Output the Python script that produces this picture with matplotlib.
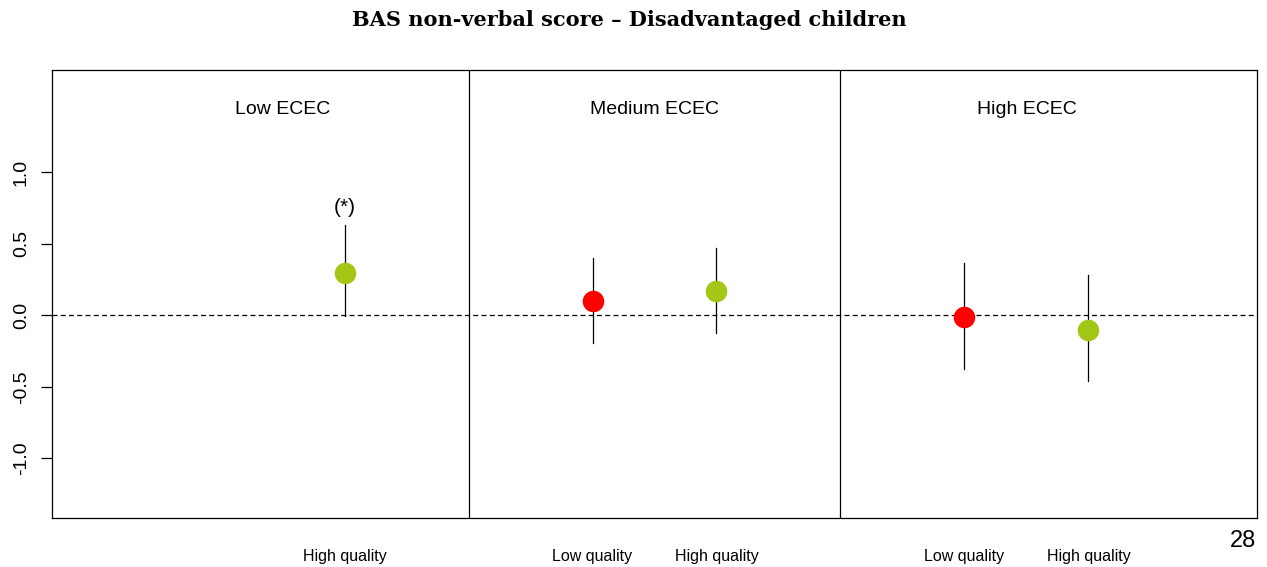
import matplotlib
matplotlib.use("Agg")
import matplotlib.pyplot as plt

# estimates with confidence intervals
x_pos = [2, 4, 5, 7, 8]
quality = ['High quality', 'Low quality', 'High quality', 'Low quality', 'High quality']
estimate = [0.30, 0.10, 0.17, -0.01, -0.105]
ci_low = [-0.005, -0.194, -0.124, -0.374, -0.461]
ci_high = [0.629, 0.405, 0.475, 0.370, 0.286]
panel_names = ['Low ECEC', 'Medium ECEC', 'High ECEC']
panel_centers = [1.5, 4.5, 7.5]
panel_dividers = [3, 6]
y_ticks = [-1.0, -0.5, 0.0, 0.5, 1.0]

RED = '#FF0000'
GREEN = '#A3C617'
colors = [GREEN if q.startswith('High') else RED for q in quality]

plt.rcParams['font.family'] = ['Liberation Sans', 'DejaVu Sans']

fig = plt.figure(figsize=(12.67, 5.67), dpi=100)
ax = fig.add_axes([52 / 1267, 49 / 567, 1205 / 1267, 448 / 567])

ax.set_xlim(-0.36, 9.36)
ax.set_ylim(-1.416, 1.716)

# zero reference line
ax.axhline(0, color='black', lw=0.9, linestyle=(0, (4, 2.6)), zorder=1)

# panel dividers
for d in panel_dividers:
    ax.axvline(d, color='black', lw=0.9, zorder=1)

# confidence intervals and point estimates
for x, lo, hi, est, c in zip(x_pos, ci_low, ci_high, estimate, colors):
    ax.plot([x, x], [lo, hi], color='black', lw=0.9, zorder=2)
    ax.plot(x, est, 'o', color=c, markersize=15.5, markeredgewidth=0, zorder=3)

# significance marker
ax.text(x_pos[0], 0.758, '(*)', ha='center', va='center', fontsize=15)

# panel titles
for cx, name in zip(panel_centers, panel_names):
    ax.text(cx, 1.44, name, ha='center', va='center', fontsize=14)

# axis styling
for s in ax.spines.values():
    s.set_linewidth(0.9)
ax.set_yticks(y_ticks)
ax.set_yticklabels([f'{v:.1f}' for v in y_ticks], rotation=90, va='center', fontsize=14)
ax.tick_params(axis='y', length=8, width=0.9, pad=8)

ax.set_xticks(x_pos)
ax.set_xticklabels(quality, fontsize=11.5)
ax.tick_params(axis='x', length=0, pad=22)

fig.text(629 / 1267, 1 - 20 / 567, 'BAS non-verbal score \u2013 Disadvantaged children',
         ha='center', va='center', fontsize=15, fontweight='bold', family='DejaVu Serif')
fig.text(1243 / 1267, 1 - 541 / 567, '28', ha='center', va='center', fontsize=17)

fig.savefig('out.png', dpi=100)
